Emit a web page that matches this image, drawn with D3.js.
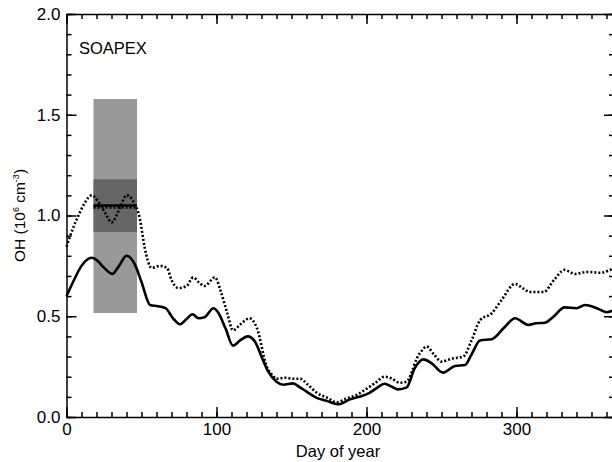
<!DOCTYPE html>
<meta charset="utf-8">
<title>SOAPEX OH</title>
<style>
  body { margin: 0; background: #fff; }
  svg { font-family: "Liberation Sans", Arial, Helvetica, sans-serif; }
  .axis text { font-size: 17px; fill: #000; font-family: "Liberation Sans", Arial, sans-serif; }
  .axis path, .axis line { stroke: #000; stroke-width: 1.5; }
</style>
<body>
<svg id="chart" width="612" height="462"></svg>
<script src="https://cdn.jsdelivr.net/npm/d3@7/dist/d3.min.js"></script>
<script>
// solid curve (day of year / OH)
var solidDays = [0,5,10,16.8,20,24.5,30.5,35,40,45.7,50,55.7,61,66,71,75.7,80,84,88,92,98,101,106,111,115.7,120.8,125.7,130,134.5,140,144.5,151,155.7,160,166.8,173.5,181,189,195,202,207,212,217,221,226.8,232,238,243.5,251,259,265.7,270,275.7,283.5,292.3,299,308,313,319,325,332,340,345.7,353.5,360,365];
var solidOH = [0.60,0.68,0.75,0.79,0.78,0.745,0.71,0.75,0.80,0.755,0.67,0.556,0.55,0.54,0.49,0.46,0.486,0.51,0.49,0.495,0.54,0.52,0.44,0.354,0.38,0.40,0.374,0.30,0.225,0.175,0.16,0.167,0.147,0.126,0.095,0.08,0.063,0.088,0.10,0.12,0.145,0.165,0.15,0.137,0.147,0.24,0.286,0.266,0.22,0.253,0.258,0.31,0.38,0.386,0.448,0.49,0.457,0.465,0.468,0.50,0.544,0.54,0.556,0.54,0.52,0.53];

// dotted curve
var dotDays = [0,4,8,12,16.8,22,26,30,35.7,40,44.5,49,52,56.8,62,67,70,74.5,80,84.5,88,92,99,103,107,111,116,122,127,133.5,137,140,146,151,155.6,161,166.8,174,180,186,193.5,200,206,212,217,222,226.8,230,233.5,237,240,245,250,257,264.5,270,275.7,283.5,290,299,304,309,318,325,332,339,347,355.7,365];
var dotOH = [0.845,0.93,1.0,1.06,1.10,1.06,1.01,0.966,1.04,1.10,1.07,0.98,0.845,0.74,0.75,0.74,0.68,0.64,0.65,0.693,0.67,0.65,0.693,0.62,0.52,0.43,0.46,0.49,0.44,0.25,0.21,0.19,0.195,0.19,0.19,0.16,0.12,0.095,0.073,0.09,0.11,0.14,0.17,0.2,0.19,0.17,0.175,0.22,0.29,0.33,0.35,0.31,0.275,0.29,0.3,0.38,0.48,0.515,0.58,0.66,0.64,0.62,0.62,0.68,0.73,0.71,0.72,0.716,0.74];

// campaign observation: day range, full range, inner range, means
var obsDays = [18, 47];
var obsRange = [0.516, 1.578];
var obsInner = [0.918, 1.18];
var obsMean = 1.05;
var obsMeanDot = 1.04;

var xTicks = [0, 100, 200, 300];
var yTicks = [0.0, 0.5, 1.0, 1.5, 2.0];

var svg = d3.select("#chart");

var x = d3.scaleLinear().domain([0, 365]).range([66.5, 614]);
var y = d3.scaleLinear().domain([0, 2]).range([417, 14]);

/* gray boxes */
svg.append("rect")
    .attr("x", x(obsDays[0])).attr("width", x(obsDays[1]) - x(obsDays[0]))
    .attr("y", y(obsRange[1])).attr("height", y(obsRange[0]) - y(obsRange[1]))
    .attr("fill", "#999999");
svg.append("rect")
    .attr("x", x(obsDays[0])).attr("width", x(obsDays[1]) - x(obsDays[0]))
    .attr("y", y(obsInner[1])).attr("height", y(obsInner[0]) - y(obsInner[1]))
    .attr("fill", "#666666");

var line = d3.line()
    .x(function(d) { return x(d[0]); })
    .y(function(d) { return y(d[1]); })
    .curve(d3.curveMonotoneX);

svg.append("path")
    .datum(dotDays.map(function(d, i) { return [d, dotOH[i]]; }))
    .attr("d", line)
    .attr("fill", "none").attr("stroke", "#000")
    .attr("stroke-width", 2.6).attr("stroke-dasharray", "2,2");

svg.append("path")
    .datum(solidDays.map(function(d, i) { return [d, solidOH[i]]; }))
    .attr("d", line)
    .attr("fill", "none").attr("stroke", "#000")
    .attr("stroke-width", 2.6);

/* mean lines over the box */
svg.append("path")
    .datum([[obsDays[0], obsMean], [obsDays[1], obsMean]])
    .attr("d", line)
    .attr("fill", "none").attr("stroke", "#000").attr("stroke-width", 2.6);
svg.append("path")
    .datum([[obsDays[0], obsMeanDot], [obsDays[1], obsMeanDot]])
    .attr("d", line)
    .attr("fill", "none").attr("stroke", "#000").attr("stroke-width", 2.6)
    .attr("stroke-dasharray", "2,2");

/* axes: major + minor ticks on all four sides, ticks inward */
var xMinor = d3.range(0, 361, 10);
var yMinor = d3.range(0, 21).map(function(i) { return i / 10; });

// bottom
svg.append("g").attr("class", "axis")
    .attr("transform", "translate(0," + y(0) + ")")
    .call(d3.axisBottom(x).tickValues(xMinor).tickSizeInner(-5).tickSizeOuter(0).tickFormat(""));
svg.append("g").attr("class", "axis")
    .attr("transform", "translate(0," + y(0) + ")")
    .call(d3.axisBottom(x).tickValues(xTicks).tickSizeInner(-10).tickSizeOuter(0).tickPadding(6).tickFormat(d3.format("d")))
    .select(".domain").remove();
// top
svg.append("g").attr("class", "axis")
    .attr("transform", "translate(0," + y(2) + ")")
    .call(d3.axisTop(x).tickValues(xMinor).tickSizeInner(-5).tickSizeOuter(0).tickFormat(""));
svg.append("g").attr("class", "axis")
    .attr("transform", "translate(0," + y(2) + ")")
    .call(d3.axisTop(x).tickValues(xTicks).tickSizeInner(-10).tickSizeOuter(0).tickFormat(""))
    .select(".domain").remove();
// left
svg.append("g").attr("class", "axis")
    .attr("transform", "translate(" + x(0) + ",0)")
    .call(d3.axisLeft(y).tickValues(yMinor).tickSizeInner(-5).tickSizeOuter(0).tickFormat(""));
svg.append("g").attr("class", "axis")
    .attr("transform", "translate(" + x(0) + ",0)")
    .call(d3.axisLeft(y).tickValues(yTicks).tickSizeInner(-10).tickSizeOuter(0).tickPadding(6).tickFormat(d3.format(".1f")))
    .select(".domain").remove();
// right
svg.append("g").attr("class", "axis")
    .attr("transform", "translate(" + x(365) + ",0)")
    .call(d3.axisRight(y).tickValues(yMinor).tickSizeInner(-5).tickSizeOuter(0).tickFormat(""));
svg.append("g").attr("class", "axis")
    .attr("transform", "translate(" + x(365) + ",0)")
    .call(d3.axisRight(y).tickValues(yTicks).tickSizeInner(-10).tickSizeOuter(0).tickFormat(""))
    .select(".domain").remove();

/* labels */
svg.append("text")
    .attr("x", 79).attr("y", 54)
    .attr("font-size", 16.5).text("SOAPEX");

svg.append("text")
    .attr("x", 338).attr("y", 457)
    .attr("text-anchor", "middle").attr("font-size", 16.5)
    .text("Day of year");

var yl = svg.append("text")
    .attr("transform", "translate(25," + y(1) + ") rotate(-90)")
    .attr("text-anchor", "middle").attr("font-size", 15.5);
yl.append("tspan").text("OH (10");
yl.append("tspan").attr("dy", -6).attr("font-size", 9).text("6");
yl.append("tspan").attr("dy", 6).text(" cm");
yl.append("tspan").attr("dy", -6).attr("font-size", 9).text("-3");
yl.append("tspan").attr("dy", 6).text(")");
</script>
</body>
